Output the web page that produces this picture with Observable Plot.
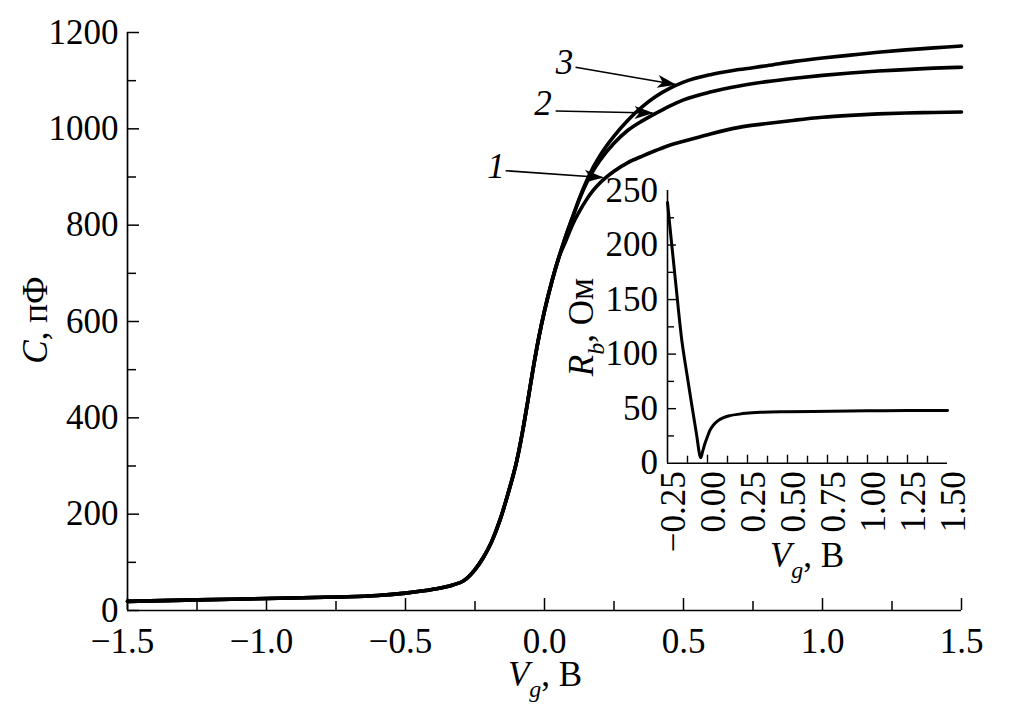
<!DOCTYPE html>
<html><head><meta charset="utf-8">
<script src="https://cdn.jsdelivr.net/npm/d3@7"></script>
<script src="https://cdn.jsdelivr.net/npm/@observablehq/plot@0.6"></script>
<style>
html,body{margin:0;padding:0;background:#fff;}
#wrap{position:relative;width:1012px;height:711px;overflow:hidden;background:#fff;}
#wrap svg{position:absolute;overflow:visible;}
</style></head><body><div id="wrap"></div>
<script>
// ---------- data ----------
// main chart: C (pF) vs Vg (V); curves share the low-voltage part
const vgShared = [-1.5,-1.25,-1.0,-0.75,-0.6,-0.5,-0.4,-0.33,-0.29,-0.25,-0.22,-0.19,-0.16,-0.13,-0.1,-0.08,-0.06,-0.04,-0.02,0,0.025,0.05];
const cShared  = [19,22,25,28,31,36,44,53,62,85,110,143,188,245,310,368,435,505,568,622,680,730];
const vgUpper  = [0.075,0.1,0.125,0.15,0.175,0.2,0.25,0.3,0.35,0.4,0.45,0.5,0.6,0.7,0.8,0.9,1.0,1.1,1.2,1.3,1.4,1.5];
const c1Upper  = [765,800,828,852,872,888,912,930,943,955,966,974,990,1003,1011,1018,1024,1028,1031,1033,1034,1035];
const c2Upper  = [775,815,853,886,913,935,970,997,1016,1032,1047,1060,1077,1089,1098,1105,1111,1116,1120,1123,1126,1128];
const c3Upper  = [775,815,855,890,920,945,985,1018,1045,1067,1084,1097,1113,1123,1131,1140,1147,1153,1159,1164,1168,1172];

const xMajorTicks = [-1.5,-1.0,-0.5,0.0,0.5,1.0,1.5];
const xMinorTicks = [-1.25,-0.75,-0.25,0.25,0.75,1.25];
const yMajorTicks = [0,200,400,600,800,1000,1200];
const yMinorTicks = [100,300,500,700,900,1100];

// curve labels with arrows
const annLabels = ["1","2","3"];
const annLabelVg = [-0.1745,-0.0054,0.0719];
const annLabelC  = [897,1028,1114];
const annFromVg  = [-0.14,0.04,0.1115];
const annFromC   = [913,1037,1128];
const annToVg    = [0.2086,0.3885,0.471];
const annToC     = [899,1033,1092];

// inset: Rb (Ohm) vs Vg (V)
const vgInset = [-0.25,-0.233,-0.2,-0.16,-0.13,-0.1,-0.07,-0.042,-0.03,-0.016,0,0.015,0.04,0.066,0.1,0.14,0.2,0.24,0.33,0.5,0.66,1.0,1.25,1.5];
const rbInset = [239,214,167,112,83,55,28,5,11,18,24.5,30,35.5,39,41.8,43.6,45,45.7,46.6,47.2,47.5,48,48.2,48.3];
const insetXMajor = [-0.25,0,0.25,0.5,0.75,1.0,1.25,1.5];
const insetXMinor = [-0.125,0.125,0.375,0.625,0.875,1.125,1.375];
const insetYMajor = [0,50,100,150,200,250];
const insetYMinor = [25,75,125,175,225];

// ---------- build ----------
const FONT = '"Liberation Serif","Times New Roman",Times,serif';
const wrap = document.getElementById("wrap");

const curve = (up) => vgShared.map((v,i)=>({vg:v,c:cShared[i]})).concat(vgUpper.map((v,i)=>({vg:v,c:up[i]})));
const curves = [curve(c1Upper), curve(c2Upper), curve(c3Upper)];
const ann = annLabels.map((t,i)=>({t, lx:annLabelVg[i], ly:annLabelC[i], x1:annFromVg[i], y1:annFromC[i], x2:annToVg[i], y2:annToC[i]}));
const fmt1 = d3.format(".1f"), fmt2 = d3.format(".2f");

const MW = 1012, MH = 711, mL = 127, mR = 51, mT = 32, mB = 101;
const fw = MW - mL - mR, fh = MH - mT - mB;

const main = Plot.plot({
  width: MW, height: MH,
  marginLeft: mL, marginRight: mR, marginTop: mT, marginBottom: mB,
  x: {domain: [-1.5, 1.5], axis: null},
  y: {domain: [0, 1200], axis: null},
  style: {fontFamily: FONT, fontSize: "35px", color: "black", background: "transparent", overflow: "visible"},
  marks: [
    Plot.ruleX([-1.5], {stroke: "black", strokeWidth: 1.7}),
    Plot.ruleY([0], {stroke: "black", strokeWidth: 1.7}),
    Plot.tickX(xMajorTicks, {x: d => d, insetTop: fh - 12, strokeWidth: 1.5}),
    Plot.tickX(xMinorTicks, {x: d => d, insetTop: fh - 9, strokeWidth: 1.5}),
    Plot.tickY(yMajorTicks, {y: d => d, insetRight: fw - 12, strokeWidth: 1.5}),
    Plot.tickY(yMinorTicks, {y: d => d, insetRight: fw - 9, strokeWidth: 1.5}),
    Plot.text(yMajorTicks, {x: -1.5, y: d => d, text: d => String(d), textAnchor: "end", lineAnchor: "middle", dx: -9}),
    Plot.text(xMajorTicks.filter(d => d < 0), {x: d => d, y: 0, text: d => fmt1(d), lineAnchor: "top", dy: 18, dx: -5}),
    Plot.text(xMajorTicks.filter(d => d >= 0), {x: d => d, y: 0, text: d => fmt1(d), lineAnchor: "top", dy: 18}),
    ...curves.map(c => Plot.line(c, {x: "vg", y: "c", stroke: "black", strokeWidth: 3.6, curve: "monotone-x"})),
    Plot.link(ann, {x1: "x1", y1: "y1", x2: "x2", y2: "y2", stroke: "black", strokeWidth: 1.6, markerEnd: "arrow"}),
    Plot.text(ann, {x: "lx", y: "ly", text: "t", fontStyle: "italic", lineAnchor: "bottom"})
  ]
});
main.style.left = "0px"; main.style.top = "0px";
wrap.appendChild(main);

// filled stealth arrowheads
d3.select(main).selectAll("marker").each(function() {
  const m = d3.select(this);
  m.attr("markerUnits", "userSpaceOnUse").attr("viewBox", "-22 -9 24 18")
   .attr("markerWidth", 24).attr("markerHeight", 18).attr("refX", 0).attr("refY", 0)
   .attr("fill", "black").attr("stroke", "none");
  m.selectAll("*").remove();
  m.append("path").attr("d", "M1,0L-18,-6.5L-13,0L-18,6.5Z");
});

const IL = 560, IT = 170, IW = 420, IH = 420;
const imL = 107, imR = 33, imT = 20, imB = 127.3;
const ifw = IW - imL - imR, ifh = IH - imT - imB;
const inset = Plot.plot({
  width: IW, height: IH,
  marginLeft: imL, marginRight: imR, marginTop: imT, marginBottom: imB,
  x: {domain: [-0.25, 1.5], axis: null},
  y: {domain: [0, 250], axis: null},
  style: {fontFamily: FONT, fontSize: "35px", color: "black", background: "transparent", overflow: "visible"},
  marks: [
    Plot.ruleX([-0.25], {stroke: "black", strokeWidth: 1.6}),
    Plot.ruleY([0], {stroke: "black", strokeWidth: 1.6}),
    Plot.tickX(insetXMajor.slice(1, -1), {x: d => d, insetTop: ifh - 8, strokeWidth: 1.4}),
    Plot.tickX(insetXMinor, {x: d => d, insetTop: ifh - 7, strokeWidth: 1.4}),
    Plot.tickY(insetYMajor.slice(1, -1), {y: d => d, insetRight: ifw - 9, strokeWidth: 1.4}),
    Plot.tickY(insetYMinor, {y: d => d, insetRight: ifw - 7, strokeWidth: 1.4}),
    Plot.text(insetYMajor, {x: -0.25, y: d => d, text: d => String(d), textAnchor: "end", lineAnchor: "middle", dx: -9.5}),
    Plot.text(insetXMajor, {x: d => d, y: 0, text: d => fmt2(d), rotate: -90, textAnchor: "end", lineAnchor: "middle", dx: 6, dy: 8}),
    Plot.line(vgInset.map((v,i)=>({vg:v, rb:rbInset[i]})), {x: "vg", y: "rb", stroke: "black", strokeWidth: 3, curve: "monotone-x"})
  ]
});
inset.style.left = IL + "px"; inset.style.top = IT + "px";
wrap.appendChild(inset);

// axis titles (rich text with italics and subscripts)
function title(svg, x, y, rot, parts) {
  const t = d3.select(svg).append("text")
    .attr("transform", `translate(${x},${y}) rotate(${rot})`)
    .attr("text-anchor", "middle").attr("font-family", FONT).attr("font-size", 35).attr("fill", "black");
  let shift = 0;
  for (const p of parts) {
    const dy = (p.sub ? 11 : 0) - shift;
    shift = p.sub ? 11 : 0;
    t.append("tspan").attr("dy", dy).attr("font-style", p.it ? "italic" : "normal")
     .attr("font-size", p.sub ? 24 : 35).text(p.t);
  }
}
title(main, 545, 686, 0, [{t: "V", it: true}, {t: "g", it: true, sub: true}, {t: ", В"}]);
title(main, 47, 320, -90, [{t: "C", it: true}, {t: ", пФ"}]);
title(main, 807, 567, 0, [{t: "V", it: true}, {t: "g", it: true, sub: true}, {t: ", В"}]);
title(main, 593, 327, -90, [{t: "R", it: true}, {t: "b", it: true, sub: true}, {t: ", Ом"}]);
</script></body></html>
